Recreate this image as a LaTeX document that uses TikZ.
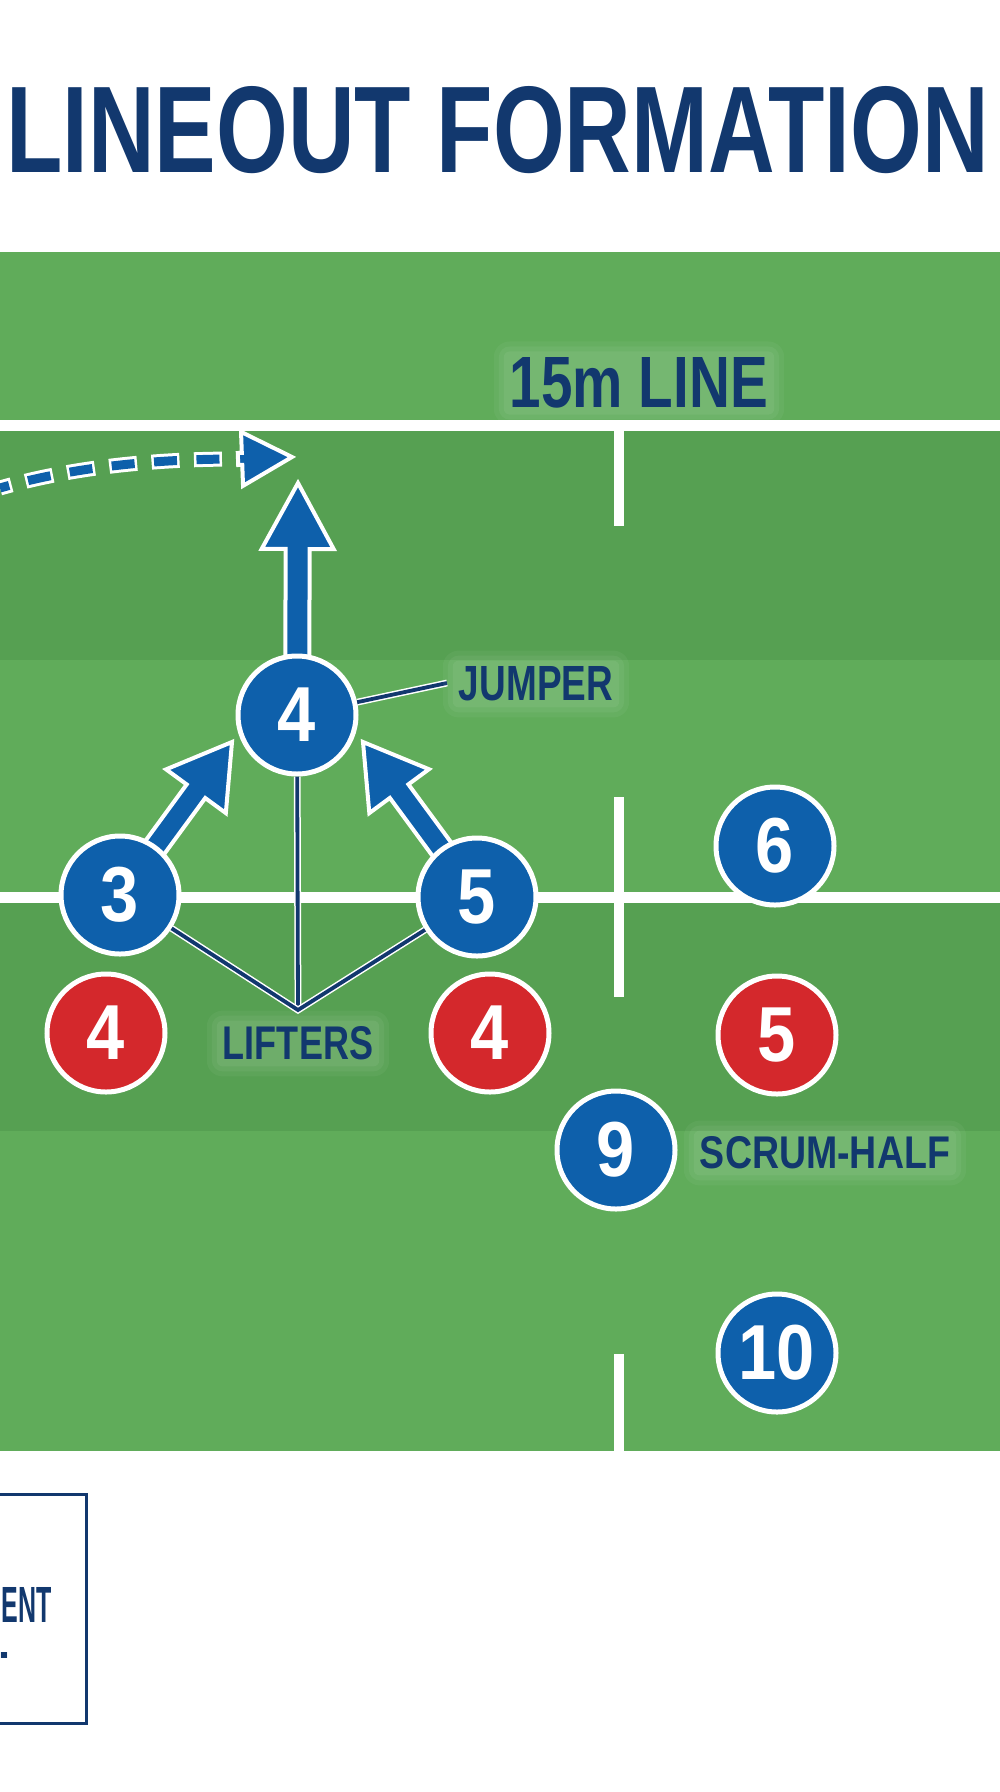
\documentclass[tikz,border=0pt]{standalone}
\usepackage{fontspec}
\setmainfont{Liberation Sans}
\usetikzlibrary{calc}
\definecolor{fieldlight}{HTML}{60AC5A}
\definecolor{fielddark}{HTML}{56A052}
\definecolor{pblue}{HTML}{0E60AB}
\definecolor{pred}{HTML}{D4282C}
\definecolor{navy}{HTML}{12386E}
\newcommand\pnum[1]{\scalebox{0.88}[1]{#1}}
% #1 start, #2 tip, #3 half shaft width, #4 half head width, #5 head length
\newcommand\fatarrow[5]{%
  \coordinate (fab) at ($(#2)!#5!(#1)$);
  \draw[fatarrowstyle] ($(#1)!#3!90:(#2)$) -- ($(fab)!#3!-90:(#1)$) -- ($(fab)!#4!-90:(#1)$) -- (#2) -- ($(fab)!#4!90:(#1)$) -- ($(fab)!#3!90:(#1)$) -- ($(#1)!#3!-90:(#2)$) -- cycle;
}
% #1 name, #2 position, #3 width, #4 height, #5 text
\newcommand\glowlabel[5]{%
  \node[plainlbl, text opacity=0] (#1g) at (#2) {\resizebox{#3}{#4}{#5}};
  \foreach \s/\o in {16/0.045, 11/0.05, 6/0.06} {
    \fill[white, opacity=\o, rounded corners=\s pt] ($(#1g.south west)+(-\s,\s)$) rectangle ($(#1g.north east)+(\s,-\s)$);
  }
  \node[plainlbl] (#1) at (#2) {\resizebox{#3}{#4}{#5}};
}
\tikzset{
  player/.style={circle, draw=white, line width=5pt, minimum size=118pt, inner sep=0pt,
    font=\bfseries\fontsize{78pt}{78pt}\selectfont, text=white},
  blueplayer/.style={player, fill=pblue},
  redplayer/.style={player, fill=pred},
  fieldline/.style={draw=white, line width=10pt},
  lifterline/.style={draw=white, line width=1.5pt, double=navy, double distance=3.8pt},
  fatarrowstyle/.style={fill=pblue, draw=white, line width=4pt, line join=miter},
  plainlbl/.style={text=navy, font=\bfseries, inner sep=0pt},
}
\begin{document}
\begin{tikzpicture}[x=1pt, y=-1pt]
\useasboundingbox (0,0) rectangle (1000,1792);
\fill[white] (0,0) rectangle (1000,1792);
% title
\node[plainlbl] (title) at (497.5,130) {\resizebox{982pt}{86pt}{LINEOUT FORMATION}};
% field bands
\fill[fieldlight] (0,252) rectangle (1000,420);
\fill[fielddark] (0,431) rectangle (1000,660);
\fill[fieldlight] (0,660) rectangle (1000,897);
\fill[fielddark] (0,897) rectangle (1000,1131);
\fill[fieldlight] (0,1131) rectangle (1000,1451);
% field lines
\fill[white] (0,420) rectangle (1000,431);
\fill[white] (0,892) rectangle (1000,903);
\draw[fieldline] (619,431) -- (619,526);
\draw[fieldline] (619,797) -- (619,997);
\draw[fieldline] (619,1354) -- (619,1451);
% label 15m line
\glowlabel{line15}{639,383}{258pt}{50pt}{15m LINE}
% player positions
\path
  (297,715) coordinate (cj4)
  (120,895) coordinate (cp3)
  (477,897) coordinate (cp5);
% throw (dashed curve)
\coordinate (ballstart) at (0,488);
\coordinate (ballend) at (238,459);
\coordinate (balltip) at (292,457);
\draw[draw=pblue, line width=9pt, dash pattern=on 23pt off 19.5pt, dash phase=13.5pt,
  preaction={draw=white, line width=15pt, dash pattern=on 28pt off 14.5pt, dash phase=16pt}]
  (ballstart) .. controls (80,465) and (165,459) .. (ballend);
\fatarrow{ballend}{balltip}{6pt}{27pt}{50pt}
% lift arrows
\coordinate (jtip) at (298,483);
\coordinate (ltip) at (232,742);
\coordinate (rtip) at (363,742);
\fatarrow{cj4}{jtip}{12pt}{36pt}{66pt}
\fatarrow{cp3}{ltip}{11.5pt}{37pt}{61pt}
\fatarrow{cp5}{rtip}{11.5pt}{37pt}{61pt}
% players
\node[blueplayer] (j4) at (cj4) {\pnum{4}};
\node[blueplayer] (p3) at (cp3) {\pnum{3}};
\node[blueplayer] (p5) at (cp5) {\pnum{5}};
\node[blueplayer] (p6) at (775,846) {\pnum{6}};
\node[redplayer] (r4a) at (106,1033) {\pnum{4}};
\node[redplayer] (r4b) at (490,1033) {\pnum{4}};
\node[redplayer] (r5) at (777,1035) {\pnum{5}};
\node[blueplayer] (p9) at (616,1150) {\pnum{9}};
\node[blueplayer] (p10) at (777,1353) {\pnum{10}};
% lifters pointer
\coordinate (vpt) at (298,1010);
\draw[lifterline] (vpt) -- (j4);
\draw[lifterline] (p3) -- (vpt) -- (p5);
% jumper pointer
\coordinate (jl) at (447,683);
\draw[lifterline] (j4) -- (jl);
% labels
\glowlabel{jumperlbl}{536,684}{154pt}{34pt}{JUMPER}
\glowlabel{lifterslbl}{298,1043.5}{150pt}{33pt}{LIFTERS}
\glowlabel{scrumlbl}{825,1153}{250pt}{32pt}{SCRUM-HALF}
% legend box (cropped at the left edge)
\draw[navy, line width=3pt] (0,1494) -- (86,1494) -- (86,1723) -- (0,1723);
\node[plainlbl, anchor=east] (legA) at (52,1604.5) {\resizebox{50pt}{35pt}{ENT}};
\node[plainlbl, anchor=north west] (legB) at (0,1652) {\resizebox{8pt}{16pt}{-}};
\end{tikzpicture}
\end{document}
